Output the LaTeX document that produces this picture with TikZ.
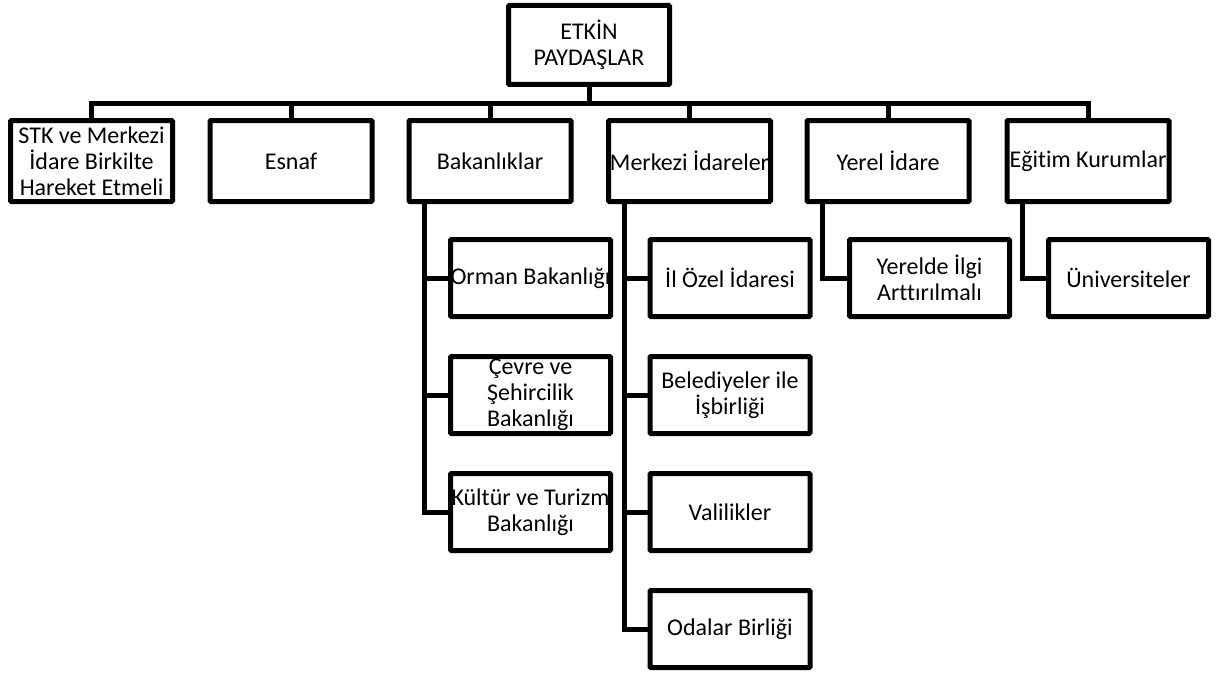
\documentclass[tikz,border=0pt]{standalone}
\usepackage{fontspec}
\setmainfont{Carlito}[Ligatures=NoCommon]
\begin{document}
\begin{tikzpicture}[x=1pt,y=-1pt,
  box/.style={draw=black, line width=5pt, fill=white, inner sep=0pt, align=center,
    font=\fontsize{24}{26}\selectfont, minimum width=162pt, minimum height=81pt,
    rounded corners=1pt},
  topbox/.style={box, minimum width=161pt, minimum height=79pt},
  subbox/.style={box, minimum width=160pt, minimum height=77pt},
  link/.style={draw=black, line width=5pt, line join=miter}]
\useasboundingbox (0,0) rectangle (1224,677);

% root
\node[topbox] (top) at (589,45) {ETKİN\\PAYDAŞLAR};

% first level
\node[box] (stk) at (91.5,161) {STK ve Merkezi\\İdare Birkilte\\Hareket Etmeli};
\node[box] (esn) at (291,161) {Esnaf};
\node[box] (bak) at (490,161) {Bakanlıklar};
\node[box] (mer) at (689.5,161) {Merkezi İdareler};
\node[box] (yer) at (888,161) {Yerel İdare};
\node[box] (egt) at (1088,161) {Eğitim Kurumlar};

% second level
\node[subbox] (orm) at (530.5,278) {Orman Bakanlığı};
\node[subbox] (cev) at (530.5,395) {Çevre ve\\Şehircilik\\Bakanlığı};
\node[subbox] (kul) at (530.5,512) {Kültür ve Turizm\\Bakanlığı};

\node[subbox] (ioz) at (730,278) {İl Özel İdaresi};
\node[subbox] (bel) at (730,395) {Belediyeler ile\\İşbirliği};
\node[subbox] (val) at (730,512) {Valilikler};
\node[subbox] (oda) at (730,629) {Odalar Birliği};

\node[subbox] (yil) at (929.5,278) {Yerelde İlgi\\Arttırılmalı};
\node[subbox] (uni) at (1128.5,278) {Üniversiteler};

% bus under the root
\coordinate (bus) at (589,103);
\draw[link] (top.south) -- (bus);
\foreach \n in {stk,esn,bak,mer,yer,egt}
  \draw[link] (\n.north) |- (bus);

% trunks down to the children
\coordinate (tbak) at ([xshift=18pt]bak.south west);
\coordinate (tmer) at ([xshift=18pt]mer.south west);
\coordinate (tyer) at ([xshift=18pt]yer.south west);
\coordinate (tegt) at ([xshift=18pt]egt.south west);

\foreach \c in {orm,cev,kul} \draw[link] (tbak) |- (\c.west);
\foreach \c in {ioz,bel,val,oda} \draw[link] (tmer) |- (\c.west);
\draw[link] (tyer) |- (yil.west);
\draw[link] (tegt) |- (uni.west);
\end{tikzpicture}
\end{document}
